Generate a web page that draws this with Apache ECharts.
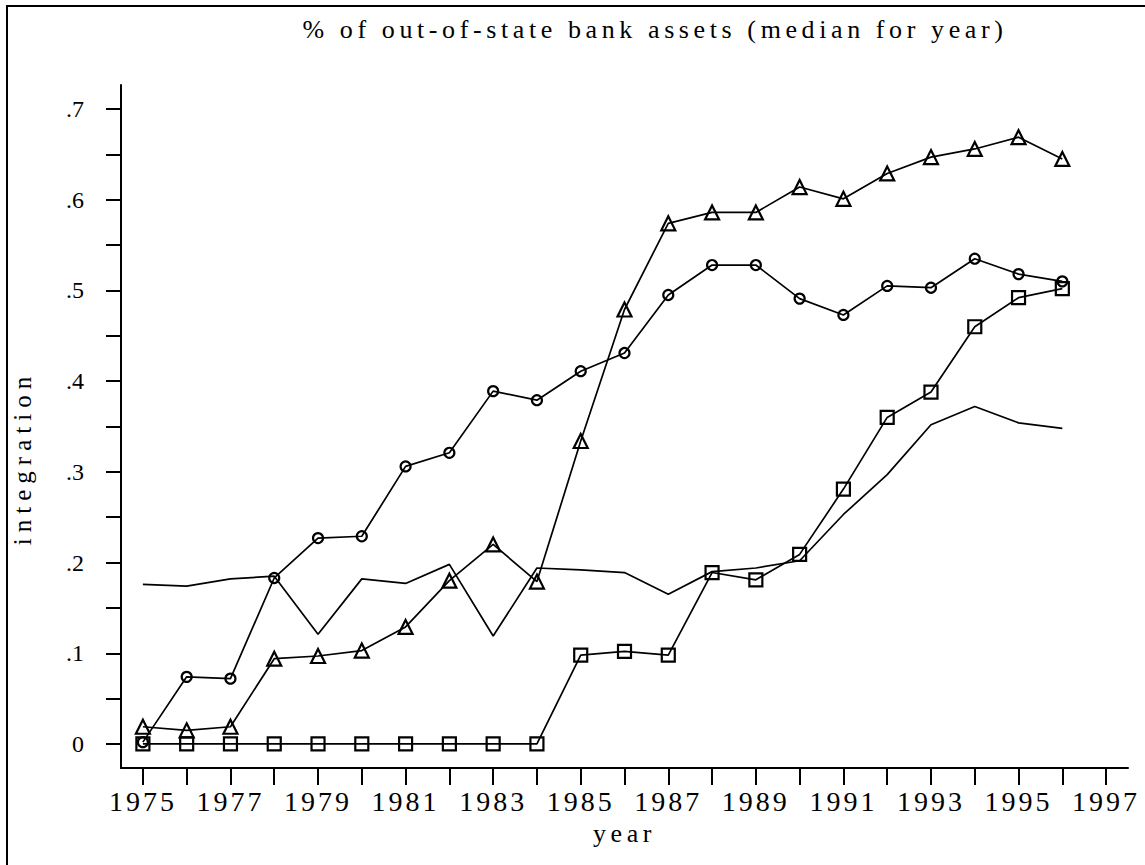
<!DOCTYPE html>
<html><head><meta charset="utf-8">
<script src="https://cdn.jsdelivr.net/npm/echarts@6/dist/echarts.min.js"></script>
<style>
html,body{margin:0;padding:0;background:#fff;}
#c{width:1145px;height:865px;}
#c text[style*="26px"]{letter-spacing:4.6px;}
#c text[style*="28px"]{letter-spacing:3px;}
#c text[style*="25px"]{letter-spacing:6px;}
</style></head><body><div id="c"></div>
<script>
const years = [1975,1976,1977,1978,1979,1980,1981,1982,1983,1984,1985,1986,1987,1988,1989,1990,1991,1992,1993,1994,1995,1996];
const circleValues = [0.002,0.074,0.072,0.183,0.227,0.229,0.306,0.321,0.389,0.379,0.411,0.431,0.495,0.528,0.528,0.491,0.473,0.505,0.503,0.535,0.518,0.510];
const triangleValues = [0.019,0.015,0.019,0.094,0.097,0.103,0.129,0.180,0.220,0.179,0.334,0.479,0.574,0.586,0.586,0.614,0.601,0.629,0.647,0.656,0.669,0.645];
const squareValues = [0,0,0,0,0,0,0,0,0,0,0.098,0.102,0.098,0.189,0.181,0.209,0.281,0.360,0.388,0.460,0.492,0.502];
const plainValues = [0.176,0.174,0.182,0.185,0.121,0.182,0.177,0.198,0.119,0.194,0.192,0.189,0.165,0.190,0.194,0.202,0.253,0.297,0.352,0.372,0.354,0.348];
const xTickValues = [1975,1976,1977,1978,1979,1980,1981,1982,1983,1984,1985,1986,1987,1988,1989,1990,1991,1992,1993,1994,1995,1996,1997];
const xLabelValues = [1975,1977,1979,1981,1983,1985,1987,1989,1991,1993,1995,1997];
const yTickValues = [0,0.05,0.1,0.15,0.2,0.25,0.3,0.35,0.4,0.45,0.5,0.55,0.6,0.65,0.7];
const yLabelValues = [0,0.1,0.2,0.3,0.4,0.5,0.6,0.7];
const titleText = '% of out-of-state bank assets (median for year)';

const FONT = 'Liberation Serif';
const pairs = vals => years.map((y, i) => [y, vals[i]]);
const markerSeries = (vals, symbol, size) => ({
  type: 'line', data: pairs(vals), symbol: symbol, symbolSize: size, showSymbol: true,
  lineStyle: {color: '#000', width: 1.7},
  itemStyle: {color: 'transparent', borderColor: '#000', borderWidth: 2.2},
  emphasis: {disabled: true}, z: 3
});

const chart = echarts.init(document.getElementById('c'), null, {renderer: 'svg'});
chart.setOption({
  animation: false,
  backgroundColor: '#fff',
  title: {
    text: titleText, left: 650, top: 11, textAlign: 'center',
    textStyle: {fontFamily: FONT, fontSize: 26, fontWeight: 'normal', color: '#000'}
  },
  graphic: [{
    type: 'rect', shape: {x: 7, y: 6, width: 1300, height: 1000},
    style: {fill: 'none', stroke: '#000', lineWidth: 2}, silent: true
  }],
  grid: {left: 121, right: 17, top: 85, bottom: 97, containLabel: false},
  xAxis: {
    type: 'value', min: 1974.5, max: 1997.5,
    name: 'year', nameLocation: 'middle', nameGap: 52,
    nameTextStyle: {fontFamily: FONT, fontSize: 26, color: '#000'},
    axisLine: {show: true, onZero: false, lineStyle: {color: '#000', width: 2}},
    axisTick: {show: true, length: 17, lineStyle: {color: '#000', width: 2}, customValues: xTickValues},
    axisLabel: {customValues: xLabelValues, margin: 19, fontFamily: FONT, fontSize: 28, color: '#000', formatter: v => String(v)},
    splitLine: {show: false}
  },
  yAxis: {
    type: 'value', min: -0.0265, max: 0.7265,
    name: 'integration', nameLocation: 'middle', nameGap: 86,
    nameTextStyle: {fontFamily: FONT, fontSize: 25, color: '#000', padding: [0, 63, 0, 0]},
    axisLine: {show: true, onZero: false, lineStyle: {color: '#000', width: 2}},
    axisTick: {show: true, length: 15, lineStyle: {color: '#000', width: 2}, customValues: yTickValues},
    axisLabel: {customValues: yLabelValues, margin: 37, fontFamily: FONT, fontSize: 24, color: '#000',
      formatter: v => v === 0 ? '0' : String(+v.toFixed(2)).replace(/^0/, '')},
    splitLine: {show: false}
  },
  series: [
    markerSeries(circleValues, 'circle', 10),
    markerSeries(triangleValues, 'triangle', 14),
    markerSeries(squareValues, 'rect', 13),
    {type: 'line', data: pairs(plainValues), symbol: 'none', showSymbol: false,
     lineStyle: {color: '#000', width: 1.7}, emphasis: {disabled: true}, z: 2}
  ]
});
</script></body></html>
